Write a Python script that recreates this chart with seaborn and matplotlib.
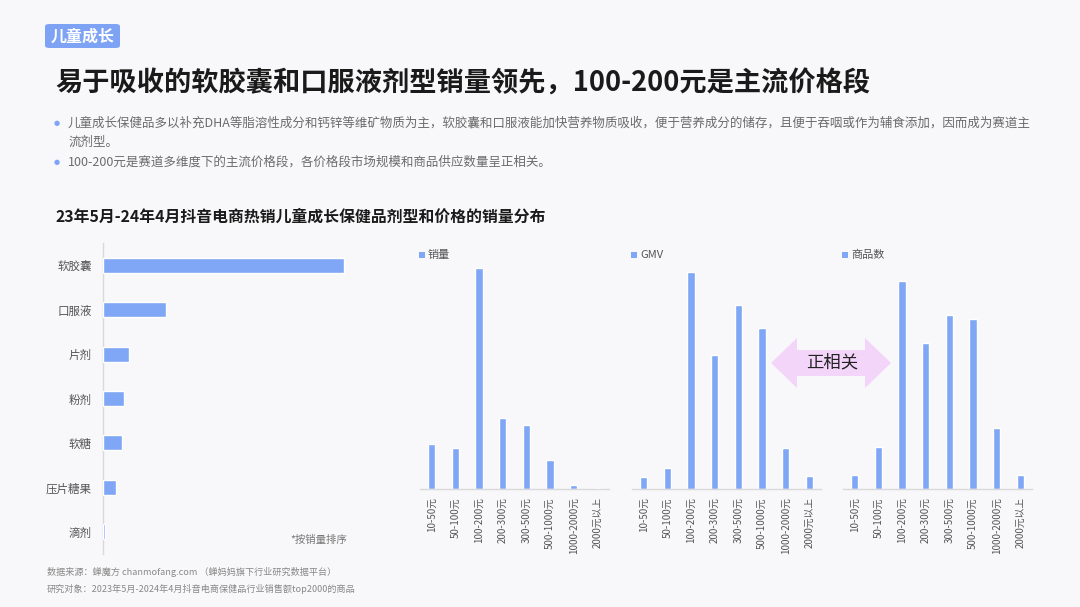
import matplotlib
matplotlib.use('Agg')
import matplotlib.pyplot as plt
import seaborn as sns
import pandas as pd
from matplotlib.patches import Polygon, FancyBboxPatch, Rectangle

# ---------------- data ----------------
forms = ['软胶囊', '口服液', '片剂', '粉剂', '软糖', '压片糖果', '滴剂']
form_sales = [241, 63, 25.5, 20.5, 19, 12.5, 1.8]

price_bands = ['10-50元', '50-100元', '100-200元', '200-300元', '300-500元',
               '500-1000元', '1000-2000元', '2000元以上']
band_sales = [44.7, 40.7, 221, 71.3, 64.3, 29, 4, 1]
band_gmv = [12, 21.3, 216.7, 134, 184, 161, 41, 12.7]
band_items = [13.7, 42.3, 207.7, 146, 174.3, 169.7, 61, 13.7]
panel_names = ['销量', 'GMV', '商品数']

# ---------------- style ----------------
sns.set_theme(style='white')
plt.rcParams['font.family'] = ['Noto Sans CJK SC', 'DejaVu Sans']
plt.rcParams['axes.unicode_minus'] = False

W, H = 1080, 607
BG = '#F8F8FA'
BLUE = '#80A6F6'
fig = plt.figure(figsize=(W / 100, H / 100), dpi=100, facecolor=BG)


def fx(x):
    return x / W


def fy(y):
    return 1 - y / H


def add_ax(x0, y0, x1, y1):
    ax = fig.add_axes([fx(x0), fy(y1), (x1 - x0) / W, (y1 - y0) / H])
    ax.set_facecolor('none')
    return ax


# ---------------- header ----------------
fig.patches.append(FancyBboxPatch((fx(45), fy(48)), 75 / W, 24 / H,
                                  boxstyle='round,pad=0,rounding_size=0.004',
                                  transform=fig.transFigure, fc='#7EA3F5', ec='none'))
fig.text(fx(82.5), fy(36.5), '儿童成长', color='white', fontsize=11.5,
         ha='center', va='center', fontweight='bold')

fig.text(fx(55), fy(84), '易于吸收的软胶囊和口服液剂型销量领先，100-200元是主流价格段',
         fontsize=19.6, fontweight='bold', color='#1A1A1A', va='center')

txt_c = '#6B6B6B'
for yy in (123, 162):
    fig.text(fx(57), fy(yy), '●', fontsize=5, color='#7FA3F5', ha='center',
             va='center', family='DejaVu Sans')
fig.text(fx(68), fy(123),
         '儿童成长保健品多以补充DHA等脂溶性成分和钙锌等维矿物质为主，软胶囊和口服液能加快营养物质吸收，便于营养成分的储存，且便于吞咽或作为辅食添加，因而成为赛道主',
         fontsize=9.0, color=txt_c, va='center')
fig.text(fx(68), fy(142), '流剂型。', fontsize=9.0, color=txt_c, va='center')
fig.text(fx(68), fy(162), '100-200元是赛道多维度下的主流价格段，各价格段市场规模和商品供应数量呈正相关。',
         fontsize=9.0, color=txt_c, va='center')

fig.text(fx(55), fy(217), '23年5月-24年4月抖音电商热销儿童成长保健品剂型和价格的销量分布',
         fontsize=11.4, fontweight='bold', color='#1A1A1A', va='center')

# ---------------- left: dosage forms ----------------
axl = add_ax(103, 243, 360, 554)
df_f = pd.DataFrame({'form': forms, 'sales': form_sales})
sns.barplot(data=df_f, x='sales', y='form', orient='h', color=BLUE,
            width=0.34, saturation=1, ax=axl)
axl.set_xlim(0, 257)
axl.set_xlabel('')
axl.set_ylabel('')
axl.set_xticks([])
axl.tick_params(axis='y', length=0, pad=8, labelsize=8.3, labelcolor='#555555')
for s in ('top', 'right', 'bottom'):
    axl.spines[s].set_visible(False)
axl.spines['left'].set_color('#D9D9D9')
axl.spines['left'].set_linewidth(1)
axl.spines['left'].set_zorder(0.5)
fig.text(fx(290), fy(540), '*按销量排序', fontsize=7.5, color='#777777', va='center')

# ---------------- right: price bands ----------------
panels = [(420, 609, band_sales), (632, 821, band_gmv), (843, 1032, band_items)]
for (x0, x1, vals), name in zip(panels, panel_names):
    ax = add_ax(x0, 262, x1, 489)
    d = pd.DataFrame({'band': price_bands, 'v': vals})
    sns.barplot(data=d, x='band', y='v', color=BLUE, width=0.31, saturation=1,
                ax=ax)
    ax.set_ylim(0, 227)
    ax.set_xlim(-0.5, len(price_bands) - 0.5)
    ax.set_xlabel('')
    ax.set_ylabel('')
    ax.set_yticks([])
    ax.set_xticks(range(len(price_bands)))
    ax.set_xticklabels(price_bands, rotation=90, fontsize=7, color='#555555')
    ax.tick_params(axis='x', length=0, pad=6)
    for s in ('top', 'right', 'left'):
        ax.spines[s].set_visible(False)
    ax.spines['bottom'].set_color('#D9D9D9')
    ax.spines['bottom'].set_linewidth(1)
    # legend marker + label
    fig.patches.append(Rectangle((fx(x0 - 1), fy(258)), 6 / W, 6 / H,
                                 transform=fig.transFigure, fc=BLUE, ec='none'))
    fig.text(fx(x0 + 8), fy(254.5), name, fontsize=8, color='#555555', va='center')

# ---------------- double arrow ----------------
pts = [(771, 363), (797, 338), (797, 350), (865, 350), (865, 338), (891, 363),
       (865, 388), (865, 376), (797, 376), (797, 388)]
fig.patches.append(Polygon([(fx(a), fy(b)) for a, b in pts], closed=True,
                           transform=fig.transFigure, fc='#F4D5FA', ec='none'))
fig.text(fx(832), fy(362), '正相关', fontsize=12.5, color='#222222',
         ha='center', va='center')

# ---------------- footer ----------------
fig.text(fx(47), fy(572), '数据来源：蝉魔方 chanmofang.com （蝉妈妈旗下行业研究数据平台）',
         fontsize=6.55, color='#888888', va='center')
fig.text(fx(47), fy(589), '研究对象：2023年5月-2024年4月抖音电商保健品行业销售额top2000的商品',
         fontsize=6.55, color='#888888', va='center')

fig.savefig('out.png', dpi=100, facecolor=BG)
